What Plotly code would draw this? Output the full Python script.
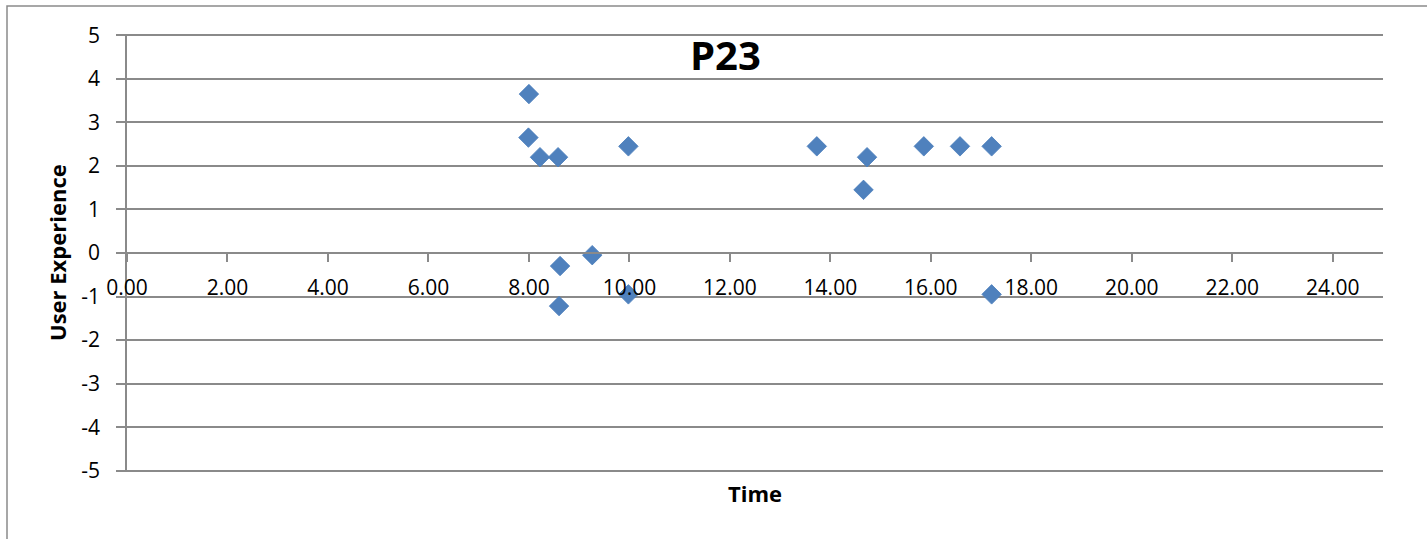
import plotly.graph_objects as go

# Data
time_vals = [8.00, 7.99, 8.22, 8.58, 9.98, 9.26, 8.62, 8.60, 9.98,
             13.73, 14.73, 14.66, 15.86, 16.58, 17.21, 17.21]
ux_vals = [3.65, 2.65, 2.20, 2.20, 2.45, -0.05, -0.30, -1.22, -0.95,
           2.45, 2.20, 1.45, 2.45, 2.45, 2.45, -0.95]

x_tickvals = [0, 2, 4, 6, 8, 10, 12, 14, 16, 18, 20, 22, 24]
x_ticktext = ["0.00", "2.00", "4.00", "6.00", "8.00", "10.00", "12.00",
              "14.00", "16.00", "18.00", "20.00", "22.00", "24.00"]
y_tickvals = [5, 4, 3, 2, 1, 0, -1, -2, -3, -4, -5]
y_ticktext = ["5", "4", "3", "2", "1", "0", "-1", "-2", "-3", "-4", "-5"]

FONT = "Open Sans"
GRID = "#8a8a8a"

fig = go.Figure()
fig.add_trace(go.Scatter(
    x=time_vals, y=ux_vals, mode="markers",
    marker=dict(symbol="diamond", size=15, color="#4F81BD",
                line=dict(width=0.8, color="#4A7EBB")),
    showlegend=False,
))

fig.update_layout(
    width=1427, height=539,
    margin=dict(l=127, r=44, t=34, b=67),
    paper_bgcolor="white", plot_bgcolor="white",
    font=dict(family=FONT, size=20, color="black"),
    xaxis=dict(
        range=[0, 25], tickvals=x_tickvals, ticktext=x_ticktext,
        showgrid=False, zeroline=False,
        showline=True, linecolor=GRID, linewidth=1.5,
        ticks="outside", ticklen=8, tickcolor=GRID, tickwidth=1.5,
        anchor="free", position=0.5,
        tickfont=dict(family=FONT, size=21, color="black"),
        ticklabelstandoff=8,
    ),
    yaxis=dict(
        range=[-5.03, 5.03], tickvals=y_tickvals, ticktext=y_ticktext,
        showgrid=True, gridcolor=GRID, gridwidth=1.5, zeroline=False,
        showline=True, linecolor=GRID, linewidth=1.5,
        ticks="outside", ticklen=9, tickcolor=GRID, tickwidth=1.5,
        tickfont=dict(family=FONT, size=21, color="black"),
        ticklabelstandoff=12,
    ),
    shapes=[dict(type="rect", xref="paper", yref="paper",
                 x0=(7 - 127) / 1256, x1=1.2, y0=-0.3, y1=(472 - 6) / 438,
                 line=dict(color="#8a8a8a", width=1.5), fillcolor="rgba(0,0,0,0)",
                 layer="below")],
    annotations=[
        dict(text="<b>P23</b>", xref="paper", yref="paper",
             x=(725 - 127) / 1256, y=(472 - 55) / 438, showarrow=False,
             xanchor="center", yanchor="middle",
             font=dict(family=FONT, size=40, color="black")),
        dict(text="<b>Time</b>", xref="paper", yref="paper",
             x=(755 - 127) / 1256, y=(472 - 493) / 438, showarrow=False,
             xanchor="center", yanchor="middle",
             font=dict(family=FONT, size=22, color="black")),
        dict(text="<b>User Experience</b>", xref="paper", yref="paper",
             x=(57 - 127) / 1256, y=0.5, showarrow=False, textangle=-90,
             xanchor="center", yanchor="middle",
             font=dict(family=FONT, size=22, color="black")),
    ],
)

fig.write_html("out.html")
